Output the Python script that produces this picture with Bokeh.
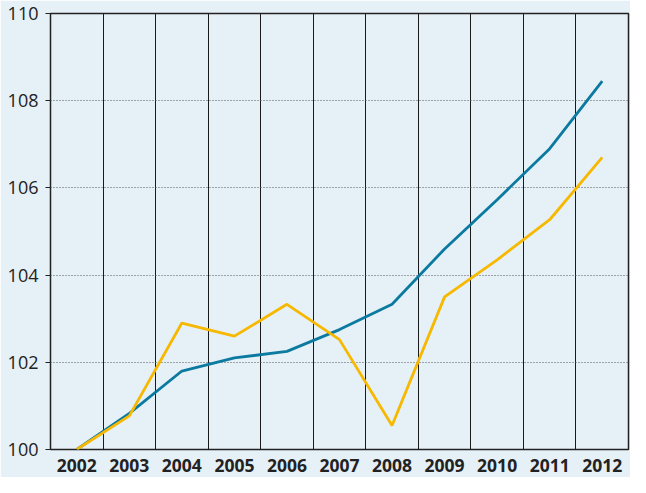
from bokeh.plotting import figure
from bokeh.models import Range1d, FixedTicker
from bokeh.embed import file_html
from bokeh.resources import INLINE

years = [2002, 2003, 2004, 2005, 2006, 2007, 2008, 2009, 2010, 2011, 2012]
blue_series = [100.0, 100.83, 101.8, 102.1, 102.25, 102.75, 103.33, 104.6, 105.73, 106.9, 108.45]
yellow_series = [100.0, 100.77, 102.9, 102.6, 103.33, 102.52, 100.55, 103.5, 104.35, 105.27, 106.7]
y_ticks = [100, 102, 104, 106, 108, 110]
y_grid = [102, 104, 106, 108]
boundaries = [y + 0.5 for y in years[:-1]]

BG = "#e6f0f7"
p = figure(width=630, height=477, output_backend="svg", toolbar_location=None,
           x_range=Range1d(2001.5, 2012.5), y_range=Range1d(100, 110),
           background_fill_color=BG, border_fill_color=BG,
           min_border_left=50, min_border_right=2, min_border_top=13, min_border_bottom=28)

p.outline_line_color = "#222222"
p.outline_line_width = 1.5

p.xgrid.ticker = FixedTicker(ticks=boundaries)
p.xgrid.grid_line_color = "#1a1a1a"
p.xgrid.grid_line_width = 1
p.ygrid.ticker = FixedTicker(ticks=y_grid)
p.ygrid.grid_line_color = "#555555"
p.ygrid.grid_line_dash = "1 2"
p.ygrid.grid_line_width = 1

p.xaxis.ticker = FixedTicker(ticks=years)
p.xaxis.axis_line_color = None
p.xaxis.major_tick_line_color = None
p.xaxis.minor_tick_line_color = None
p.xaxis.major_label_text_font = "Open Sans"
p.xaxis.major_label_text_font_style = "bold"
p.xaxis.major_label_text_font_size = "17.5px"
p.xaxis.major_label_text_color = "#222222"
p.xaxis.major_label_standoff = 3

p.yaxis.ticker = FixedTicker(ticks=y_ticks)
p.yaxis.axis_line_color = None
p.yaxis.major_tick_line_color = "#222222"
p.yaxis.major_tick_out = 5
p.yaxis.major_tick_in = 0
p.yaxis.minor_tick_line_color = None
p.yaxis.major_label_text_font = "Open Sans"
p.yaxis.major_label_text_font_size = "18px"
p.yaxis.major_label_text_color = "#222222"
p.yaxis.major_label_standoff = 7

p.line(years, blue_series, line_color="#0b7aa0", line_width=2.8)
p.line(years, yellow_series, line_color="#f7b800", line_width=2.8)

open("out.html", "w").write(file_html(p, INLINE))
